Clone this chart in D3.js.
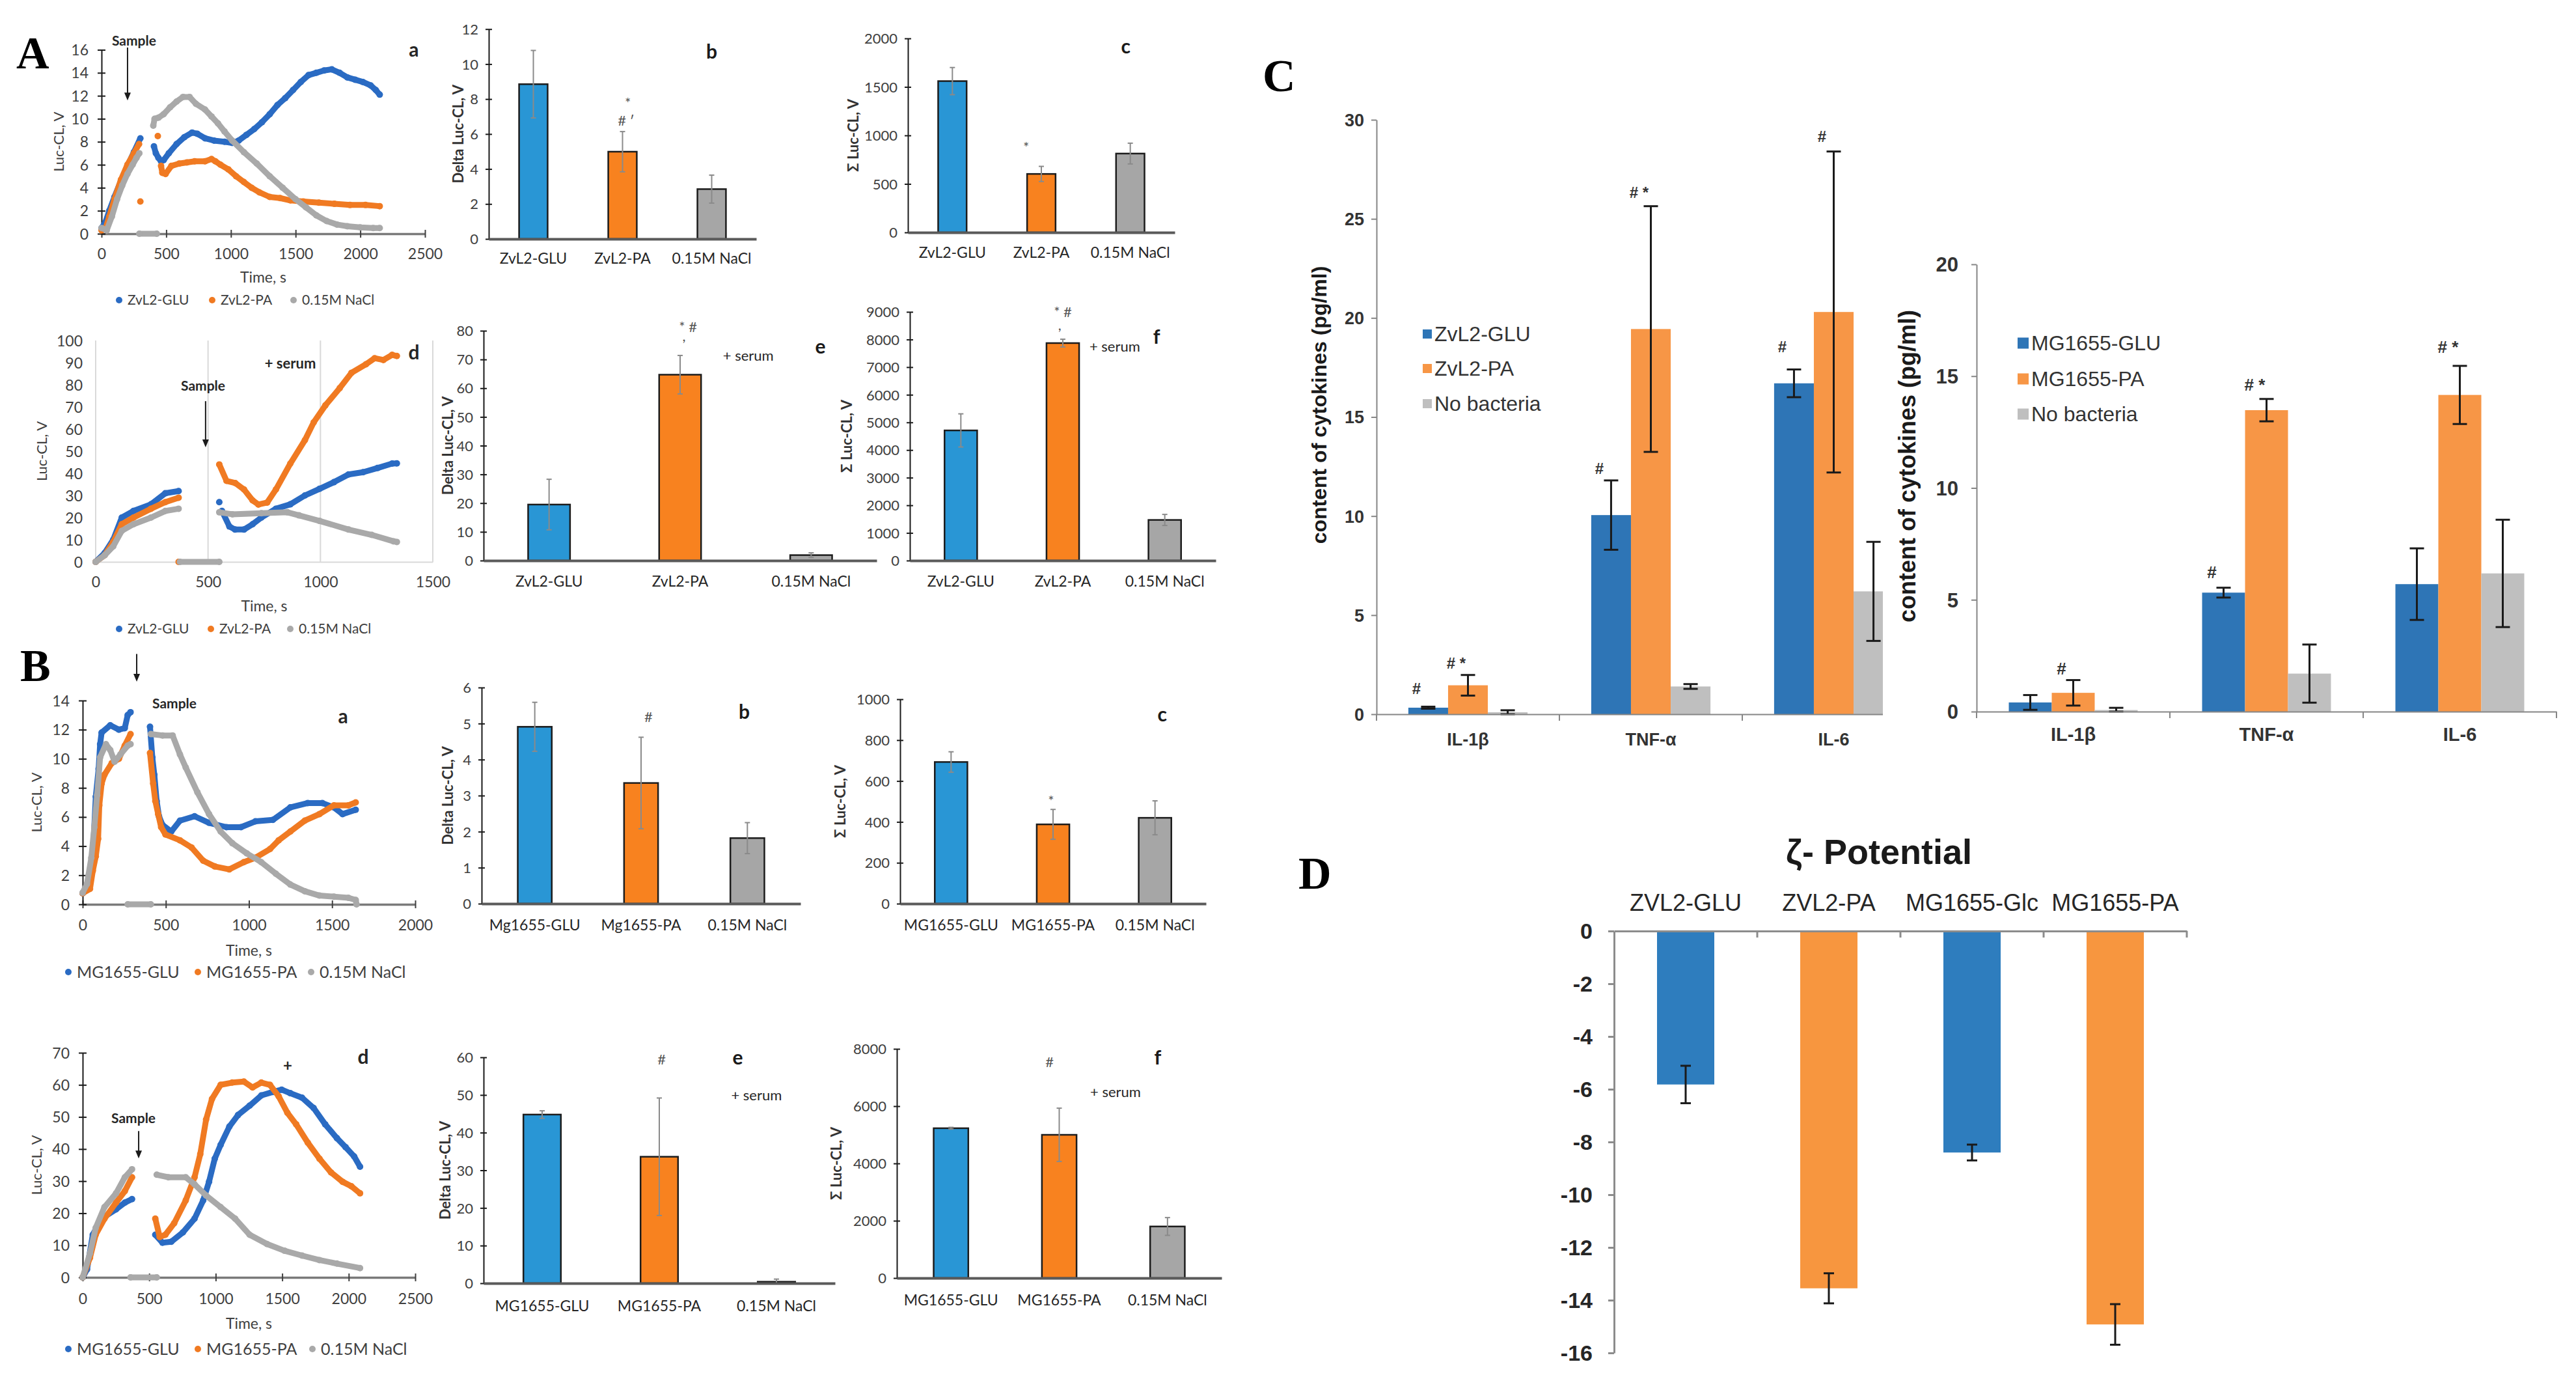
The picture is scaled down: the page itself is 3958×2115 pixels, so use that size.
<!DOCTYPE html>
<html>
<head>
<meta charset="utf-8">
<title>Luc-CL kinetics, cytokines and zeta potential</title>
<script src="https://cdn.jsdelivr.net/npm/d3@7"></script>
<style>
  body { margin: 0; background: #fff; }
  svg { display: block; background: #fff; }
</style>
</head>
<body>
<svg id="fig" width="3958" height="2115"></svg>
<script>
// ---------- kinetics: [time s, Luc-CL V], null breaks the trace ----------
// A a : ZvL2, no serum
const aaGlu = [[0,0.5],[30,1],[60,2],[100,3.2],[150,4.6],[200,5.9],[250,7.1],[300,8.3], null,
  [405,7.6],[420,7],[440,6.6],[460,6.3],[480,6.4],[520,7],[580,7.8],[640,8.4],[700,8.8],[740,8.7],[800,8.3],[870,8.1],[950,8],[1010,7.9],[1060,8.1],[1120,8.6],[1180,9.1],[1240,9.7],[1300,10.4],[1360,11.2],[1420,11.8],[1480,12.5],[1540,13.2],[1600,13.8],[1660,14],[1720,14.2],[1780,14.3],[1840,14],[1900,13.6],[1960,13.4],[2020,13.2],[2080,12.9],[2120,12.5],[2150,12.1]];
const aaPa = [[0,0.3],[30,0.4],[60,1.5],[100,3],[150,4.7],[200,6],[250,7],[290,7.8], null, [300,2.8], null, [435,8.5], null,
  [460,5.9],[470,5.3],[495,5.2],[540,5.9],[600,6.1],[660,6.2],[720,6.3],[800,6.3],[850,6.5],[880,6.3],[920,6],[980,5.6],[1040,5],[1100,4.5],[1160,4],[1220,3.6],[1300,3.2],[1380,3.1],[1460,2.9],[1560,2.8],[1680,2.7],[1800,2.6],[1920,2.5],[2040,2.5],[2150,2.4]];
const aaNacl = [[0,0.5],[40,0.3],[80,1.5],[120,3],[160,4.2],[200,5.2],[240,6],[270,6.6],[292,7], null, [292,0],[427,0], null,
  [400,9.4],[410,10],[440,10.1],[480,10.4],[530,11],[580,11.5],[630,11.9],[680,11.9],[730,11.3],[800,10.8],[850,10.2],[900,9.6],[950,8.9],[1010,8.1],[1100,7.1],[1200,6.1],[1300,5],[1400,4],[1500,3],[1580,2.3],[1660,1.6],[1740,1.1],[1820,0.8],[1900,0.65],[2000,0.55],[2100,0.5],[2150,0.5]];

// A d : ZvL2 + serum
const adGlu = [[0,0],[40,4],[78,10],[116,20],[168,23],[246,26],[310,31],[369,32], null, [550,27], null,
  [562,23],[595,16],[620,14.6],[660,14.6],[698,17],[737,20],[802,24],[866,26],[931,30],[996,33],[1060,36],[1125,39.5],[1190,40.5],[1254,42.4],[1319,44.4],[1340,44.5]];
const adPa = [[0,0],[40,3],[78,9],[116,17],[168,20],[246,24],[310,27],[369,29], null, [369,0], null,
  [550,44],[582,36.6],[621,35.6],[660,32.7],[698,27.8],[724,25.9],[763,26.8],[802,32.7],[866,44.4],[931,55],[970,63],[1022,70.7],[1086,78.5],[1138,85.4],[1203,89.3],[1241,92],[1280,91.2],[1319,93.5],[1340,93]];
const adNacl = [[0,0],[40,3],[78,7],[116,14],[168,17],[246,20],[310,23],[369,24], null, [375,0],[550,0], null,
  [550,22.4],[608,21.5],[737,22],[853,22.4],[905,21],[996,18.5],[1125,14.6],[1228,12.2],[1325,9.3],[1340,9]];

// B a : MG1655, no serum
const baGlu = [[0,0.76],[26,1.06],[44,2],[61,3.3],[79,7.4],[96,9.3],[105,11],[114,11.8],[166,12.3],[218,12],[253,12.1],[271,13],[288,13.2], null,
  [405,12.2],[419,10.1],[431,8.9],[445,7.1],[459,6.05],[480,5.45],[533,5],[585,5.75],[673,6.05],[760,5.6],[865,5.3],[952,5.3],[1039,5.7],[1144,5.8],[1249,6.66],[1354,6.96],[1441,6.96],[1511,6.66],[1563,6.2],[1642,6.5]];
const baPa = [[0,0.76],[44,1.06],[61,2.3],[79,3.3],[93,4.5],[100,6.8],[114,8.3],[131,8.9],[175,9.7],[218,10],[253,10.9],[288,11.7], null,
  [405,10.4],[424,8.3],[437,7.1],[454,6.2],[472,5.3],[498,4.8],[585,4.4],[655,3.9],[725,3],[795,2.6],[882,2.4],[969,2.9],[1039,3.2],[1127,3.8],[1179,4.4],[1249,5],[1336,5.75],[1424,6.2],[1511,6.8],[1598,6.8],[1642,7]];
const baNacl = [[0,0.8],[26,1.4],[52,3.2],[70,5.3],[87,7.5],[105,10.1],[140,11],[166,10.6],[192,9.8],[227,10.3],[271,10.9],[288,11], null, [271,0],[410,0], null,
  [410,11.7],[480,11.6],[541,11.6],[585,10.3],[620,9.4],[690,7.7],[760,6.2],[830,5],[900,4.2],[987,3.5],[1074,2.9],[1162,2.1],[1249,1.36],[1336,0.9],[1424,0.6],[1511,0.53],[1598,0.45],[1642,0.3],[1647,0]];

// B d : MG1655 + serum
const bdGlu = [[0,0],[33,2.5],[76,13.3],[142,18.3],[251,21.2],[317,23.3],[371,24.4], null,
  [546,13.3],[600,10.8],[666,11.1],[753,14],[841,18.3],[906,24],[950,29.8],[993,37],[1037,41.3],[1103,47],[1168,50.6],[1255,53.5],[1343,56.7],[1430,57.8],[1496,58.5],[1561,57.4],[1649,56],[1736,52.8],[1823,47.7],[1911,43.4],[1976,40.6],[2041,37.7],[2085,34.5]];
const bdPa = [[0,0],[55,6.1],[98,13.3],[164,18.3],[251,23.3],[317,26.9],[371,31.2], null,
  [546,18.3],[579,12.6],[622,13.3],[688,16.9],[775,24],[841,31.2],[884,38.4],[928,49.2],[972,55.6],[1037,60],[1124,60.7],[1212,61],[1277,59.2],[1343,60.7],[1408,60],[1474,56.4],[1539,51.3],[1605,47.7],[1692,42],[1780,37],[1867,32.7],[1954,29.8],[2020,28.4],[2085,26.2]];
const bdNacl = [[0,0],[55,7.5],[98,15.4],[164,21.9],[251,26.2],[317,31.2],[371,33.7], null, [360,0],[557,0], null,
  [557,32],[644,31.2],[775,31.2],[841,29],[928,25.5],[1037,21.9],[1146,18.3],[1255,13.3],[1386,10.4],[1518,8.3],[1649,6.8],[1780,5.4],[1911,4.3],[2085,2.9]];

// ---------- bar panels of A and B (mean, error) ----------
const zvlCats = ['ZvL2-GLU', 'ZvL2-PA', '0.15M NaCl'];
const mgCatsLow = ['Mg1655-GLU', 'Mg1655-PA', '0.15M NaCl'];
const mgCats = ['MG1655-GLU', 'MG1655-PA', '0.15M NaCl'];
const abVals = [8.85, 4.99, 2.85],  abErr = [1.93, 1.15, 0.8];
const acVals = [1560, 603, 813],    acErr = [140, 78, 107];
const aeVals = [19.5, 64.7, 1.9],   aeErr = [8.8, 6.7, 0.8];
const afVals = [4710, 7870, 1470],  afErr = [600, 140, 200];
const bbVals = [4.91, 3.35, 1.82],  bbErr = [0.68, 1.27, 0.43];
const bcVals = [693, 388, 420],     bcErr = [50, 73, 83];
const beVals = [44.8, 33.6, 0.4],   beErr = [1.0, 15.6, 0.7];
const bfVals = [5230, 5000, 1800],  bfErr = [30, 930, 310];

// ---------- C : cytokines, pg/ml (rows = GLU, PA, no bacteria) ----------
const cytoCats = ['IL-1β', 'TNF-α', 'IL-6'];
const zvlCytoNames = ['ZvL2-GLU', 'ZvL2-PA', 'No bacteria'];
const mgCytoNames = ['MG1655-GLU', 'MG1655-PA', 'No bacteria'];
const zvlCyto    = [[0.33, 10.05, 16.7], [1.46, 19.44, 20.3], [0.1, 1.4, 6.2]];
const zvlCytoErr = [[0.05, 1.75, 0.7],   [0.52, 6.2, 8.1],    [0.1, 0.12, 2.5]];
const mgCyto     = [[0.41, 5.32, 5.7],   [0.84, 13.48, 14.16], [0.07, 1.7, 6.18]];
const mgCytoErr  = [[0.33, 0.22, 1.6],   [0.57, 0.5, 1.3],    [0.1, 1.3, 2.4]];

// ---------- D : zeta potential ----------
const zetaCats = ['ZVL2-GLU', 'ZVL2-PA', 'MG1655-Glc', 'MG1655-PA'];
const zetaVals = [-5.82, -13.55, -8.4, -14.92];
const zetaErr = [0.71, 0.57, 0.3, 0.77];

const fig = d3.select('#fig');
const LATO = 'Lato, "Liberation Sans", sans-serif';
const ARIAL = '"Liberation Sans", Arial, sans-serif';
const SERIF = '"Liberation Serif", "Times New Roman", serif';
const LINE_COLS = ['#2a6bc3', '#f07a22', '#a9a9a9'];
const BAR_COLS = ['#2996d5', '#f8821f', '#a6a6a6'];
const CYTO_COLS = ['#2e75b6', '#f79646', '#bfbfbf'];
const ZETA_COLS = ['#2e7dbe', '#f7963f', '#2e7dbe', '#f7963f'];
const plain = d3.format('d');

function txt(g, x, y, s, o = {}) {
  return g.append('text').attr('x', x).attr('y', y).text(s)
    .attr('font-family', o.family || LATO)
    .attr('font-size', o.size || 20)
    .attr('font-weight', o.weight || 'normal')
    .attr('fill', o.fill || '#262626')
    .attr('text-anchor', o.anchor || 'middle')
    .attr('dy', o.dy == null ? '0.35em' : o.dy)
    .attr('transform', o.rotate ? `rotate(-90,${x},${y})` : null);
}

function fontAxis(a, family, size, weight, fill) {
  a.attr('font-family', family).attr('font-size', size);
  a.selectAll('text').attr('fill', fill).attr('font-weight', weight);
}

// scatter-style kinetic curve (3 series)
function lineChart(o) {
  const g = fig.append('g');
  const x = d3.scaleLinear().domain([0, o.xMax]).range([o.left, o.right]);
  const y = d3.scaleLinear().domain([0, o.yMax]).range([o.bottom, o.top]);
  const xt = d3.range(0, o.xMax + 1, o.xStep);
  const yt = d3.range(0, o.yMax + o.yStep / 2, o.yStep);

  if (o.grid) {
    g.append('g').selectAll('line').data(xt).join('line')
      .attr('x1', d => x(d)).attr('x2', d => x(d))
      .attr('y1', o.top).attr('y2', o.bottom)
      .attr('stroke', '#d9d9d9').attr('stroke-width', 2);
  }

  const xa = g.append('g').attr('transform', `translate(0,${o.bottom})`)
    .call(d3.axisBottom(x).tickValues(xt).tickFormat(plain).tickSize(6).tickSizeOuter(0));
  xa.select('.domain').attr('stroke', o.grid ? '#d9d9d9' : '#7a7a7a').attr('stroke-width', o.grid ? 2 : 3.5);
  xa.selectAll('.tick line').attr('y1', -6).attr('y2', 6)
    .attr('stroke', o.grid ? 'none' : '#404040').attr('stroke-width', 2);
  xa.selectAll('.tick text').attr('y', o.xLabOff).attr('dy', '0.35em');
  fontAxis(xa, LATO, 23, 'normal', '#404040');

  const ya = g.append('g').attr('transform', `translate(${o.left},0)`)
    .call(d3.axisLeft(y).tickValues(yt).tickFormat(plain).tickSize(6).tickSizeOuter(0));
  ya.select('.domain').attr('stroke', o.grid ? 'none' : '#1a1a1a').attr('stroke-width', 2);
  ya.selectAll('.tick line').attr('x1', 6)
    .attr('stroke', o.grid ? 'none' : '#1a1a1a').attr('stroke-width', 2);
  ya.selectAll('.tick text').attr('x', -20).attr('dy', '0.35em');
  fontAxis(ya, LATO, 23, 'normal', '#404040');

  const line = d3.line().defined(d => d !== null).x(d => x(d[0])).y(d => y(d[1]));
  o.series.forEach((s, i) => {
    g.append('path').datum(s).attr('d', line).attr('fill', 'none')
      .attr('stroke', LINE_COLS[i]).attr('stroke-width', 9)
      .attr('stroke-linejoin', 'round').attr('stroke-linecap', 'round');
    g.append('g').selectAll('circle').data(s.filter(d => d !== null)).join('circle')
      .attr('cx', d => x(d[0])).attr('cy', d => y(d[1])).attr('r', 5)
      .attr('fill', LINE_COLS[i]);
  });

  // legend under the plot
  o.names.forEach((n, i) => {
    g.append('circle').attr('cx', o.legX[i]).attr('cy', o.legY).attr('r', 5).attr('fill', LINE_COLS[i]);
    txt(g, o.legX[i] + 13, o.legY, n, { size: o.legSize, anchor: 'start', fill: '#404040' });
  });
  txt(g, (o.left + o.right) / 2, o.timeY, 'Time, s', { size: 23, fill: '#404040' });
  txt(g, o.yLabX, (o.top + o.bottom) / 2, 'Luc-CL, V', { size: 22, rotate: true, fill: '#404040' });

  // sample arrow and notes, in data units
  if (o.arrow) {
    const ax = x(o.arrow.t), y1 = y(o.arrow.v1), y2 = y(o.arrow.v2);
    g.append('line').attr('x1', ax).attr('x2', ax).attr('y1', y1).attr('y2', y2 - 10)
      .attr('stroke', '#1a1a1a').attr('stroke-width', 2);
    g.append('path').attr('d', `M${ax - 5},${y2 - 12}L${ax + 5},${y2 - 12}L${ax},${y2}Z`).attr('fill', '#1a1a1a');
  }
  (o.notes || []).forEach(n => txt(g, x(n.t), y(n.v), n.s, { size: n.size || 21, weight: n.weight || 'bold' }));
}

// three bars with errors
function barChart(o) {
  const g = fig.append('g');
  const x = d3.scaleBand().domain(o.cats).range([o.left, o.right]).paddingInner(0.68).paddingOuter(0.34);
  const cx = c => x(c) + x.bandwidth() / 2;
  const xi = d3.scaleLinear().domain([0, 2]).range([cx(o.cats[0]), cx(o.cats[2])]);
  const y = d3.scaleLinear().domain([0, o.yMax]).range([o.bottom, o.top]);
  const rows = o.cats.map((c, i) => ({ c, v: o.vals[i], e: o.errs[i], col: BAR_COLS[i] }));

  g.selectAll('rect.bar').data(rows).join('rect').attr('class', 'bar')
    .attr('x', d => x(d.c)).attr('y', d => y(d.v))
    .attr('width', x.bandwidth()).attr('height', d => y(0) - y(d.v))
    .attr('fill', d => d.col).attr('stroke', '#1c1c1c').attr('stroke-width', 2.5);

  const eb = g.selectAll('g.err').data(rows).join('g').attr('class', 'err')
    .attr('stroke', '#8a8a8a').attr('stroke-width', 2);
  eb.append('line').attr('x1', d => cx(d.c)).attr('x2', d => cx(d.c))
    .attr('y1', d => y(d.v + d.e)).attr('y2', d => y(Math.max(0, d.v - d.e)));
  eb.append('line').attr('x1', d => cx(d.c) - 4).attr('x2', d => cx(d.c) + 4)
    .attr('y1', d => y(d.v + d.e)).attr('y2', d => y(d.v + d.e));
  eb.append('line').attr('x1', d => cx(d.c) - 4).attr('x2', d => cx(d.c) + 4)
    .attr('y1', d => y(Math.max(0, d.v - d.e))).attr('y2', d => y(Math.max(0, d.v - d.e)));

  const ya = g.append('g').attr('transform', `translate(${o.left},0)`)
    .call(d3.axisLeft(y).tickValues(d3.range(0, o.yMax + o.yStep / 2, o.yStep)).tickFormat(plain)
      .tickSize(5).tickSizeOuter(0));
  ya.select('.domain').attr('stroke', '#1a1a1a').attr('stroke-width', 2);
  ya.selectAll('.tick line').attr('x1', 5).attr('stroke', '#1a1a1a').attr('stroke-width', 2);
  ya.selectAll('.tick text').attr('x', -16).attr('dy', '0.35em');
  fontAxis(ya, LATO, 22, 'normal', '#404040');

  const xa = g.append('g').attr('transform', `translate(0,${o.bottom})`)
    .call(d3.axisBottom(x).tickSize(0).tickSizeOuter(0));
  xa.select('.domain').attr('stroke', '#5a5a5a').attr('stroke-width', 4);
  xa.selectAll('.tick text').attr('y', o.labY - o.bottom).attr('dy', '0.35em');
  fontAxis(xa, LATO, 23, 'normal', '#262626');

  txt(g, o.yLabX, (o.top + o.bottom) / 2, o.yLab, { size: 22, weight: 'bold', rotate: true, fill: '#333' });
  o.notes.forEach(n => txt(g, xi(n.i), y(n.v), n.s, {
    size: n.size || 22, weight: n.weight || 'normal', fill: n.fill || '#555'
  }));
}

// grouped cytokine bars
function cytoChart(o) {
  const root = fig.append('g');
  if (o.clipRight) {
    root.append('clipPath').attr('id', o.id)
      .append('rect').attr('x', o.left - 300).attr('y', 0).attr('width', o.clipRight - o.left + 300).attr('height', 1300);
  }
  const g = root.append('g').attr('clip-path', o.clipRight ? `url(#${o.id})` : null);
  const x0 = d3.scaleBand().domain(cytoCats).range([o.left, o.right]);
  const bw = x0.bandwidth();
  const x1 = d3.scaleBand().domain([0, 1, 2]).range([bw * o.gp, bw * (1 - o.gp)]);
  const y = d3.scaleLinear().domain([0, o.yMax]).range([o.bottom, o.top]);
  const rows = [];
  o.vals.forEach((arr, s) => arr.forEach((v, k) => rows.push({ c: cytoCats[k], s, v, e: o.errs[s][k] })));
  const bc = d => x0(d.c) + x1(d.s) + x1.bandwidth() / 2;

  g.selectAll('rect.bar').data(rows).join('rect').attr('class', 'bar')
    .attr('x', d => x0(d.c) + x1(d.s)).attr('y', d => y(d.v))
    .attr('width', x1.bandwidth()).attr('height', d => y(0) - y(d.v))
    .attr('fill', d => CYTO_COLS[d.s]);

  const eb = g.selectAll('g.err').data(rows).join('g').attr('class', 'err')
    .attr('stroke', '#1a1a1a').attr('stroke-width', 3);
  const lo = d => y(Math.max(0, d.v - d.e)), hi = d => y(d.v + d.e);
  eb.append('line').attr('x1', bc).attr('x2', bc).attr('y1', hi).attr('y2', lo);
  eb.append('line').attr('x1', d => bc(d) - o.capW / 2).attr('x2', d => bc(d) + o.capW / 2).attr('y1', hi).attr('y2', hi);
  eb.append('line').attr('x1', d => bc(d) - o.capW / 2).attr('x2', d => bc(d) + o.capW / 2).attr('y1', lo).attr('y2', lo);

  const ya = g.append('g').attr('transform', `translate(${o.left},0)`)
    .call(d3.axisLeft(y).tickValues(d3.range(0, o.yMax + 1, o.yStep)).tickSize(8).tickPadding(o.tickPad).tickSizeOuter(0));
  ya.select('.domain').attr('stroke', '#868686').attr('stroke-width', 2);
  ya.selectAll('.tick line').attr('stroke', '#868686').attr('stroke-width', 2);
  ya.selectAll('.tick text').attr('dy', '0.35em');
  fontAxis(ya, ARIAL, o.tickSize, 'bold', '#333');

  const xa = g.append('g').attr('transform', `translate(0,${o.bottom})`)
    .call(d3.axisBottom(x0).tickSize(0).tickSizeOuter(0));
  xa.select('.domain').attr('stroke', '#868686').attr('stroke-width', 2);
  xa.selectAll('.tick text').attr('y', o.labOff).attr('dy', '0.35em');
  fontAxis(xa, ARIAL, o.labSize, 'bold', '#333');
  g.append('g').selectAll('line').data(d3.range(4)).join('line')
    .attr('x1', k => o.left + k * bw).attr('x2', k => o.left + k * bw)
    .attr('y1', o.bottom).attr('y2', o.bottom + 10)
    .attr('stroke', '#868686').attr('stroke-width', 2);

  // legend
  o.names.forEach((n, i) => {
    g.append('rect').attr('x', o.legX).attr('y', o.legY[i] - o.legSq / 2)
      .attr('width', o.legSq).attr('height', o.legSq).attr('fill', CYTO_COLS[i]);
    txt(g, o.legX + o.legSq + 4, o.legY[i], n, { family: ARIAL, size: o.legSize, anchor: 'start', fill: '#333' });
  });

  // significance marks
  o.notes.forEach(n => {
    const d = { c: n.c, s: n.s };
    txt(g, bc(d) + o.noteDx, y(n.v), n.t, { family: ARIAL, size: o.noteSize, weight: 'bold', fill: '#333' });
  });

  txt(fig, o.yLabX, o.yLabY, 'content of cytokines (pg/ml)',
    { family: ARIAL, size: o.yLabSize, weight: 'bold', rotate: true, fill: '#1a1a1a' });
}

function zetaChart() {
  const g = fig.append('g');
  const x = d3.scaleBand().domain(zetaCats).range([2480, 3360]).paddingInner(0.6).paddingOuter(0.3);
  const y = d3.scaleLinear().domain([-16, 0]).range([2078, 1430]);
  const rows = zetaCats.map((c, i) => ({ c, v: zetaVals[i], e: zetaErr[i], col: ZETA_COLS[i] }));
  const bc = d => x(d.c) + x.bandwidth() / 2;

  g.selectAll('rect').data(rows).join('rect')
    .attr('x', d => x(d.c)).attr('y', y(0))
    .attr('width', x.bandwidth()).attr('height', d => y(d.v) - y(0))
    .attr('fill', d => d.col);

  const eb = g.selectAll('g.err').data(rows).join('g').attr('class', 'err')
    .attr('stroke', '#1a1a1a').attr('stroke-width', 3);
  eb.append('line').attr('x1', bc).attr('x2', bc).attr('y1', d => y(d.v + d.e)).attr('y2', d => y(d.v - d.e));
  eb.append('line').attr('x1', d => bc(d) - 8).attr('x2', d => bc(d) + 8).attr('y1', d => y(d.v + d.e)).attr('y2', d => y(d.v + d.e));
  eb.append('line').attr('x1', d => bc(d) - 8).attr('x2', d => bc(d) + 8).attr('y1', d => y(d.v - d.e)).attr('y2', d => y(d.v - d.e));

  const ya = g.append('g').attr('transform', 'translate(2480,0)')
    .call(d3.axisLeft(y).tickValues(d3.range(-16, 1, 2)).tickFormat(d => String(d))
      .tickSize(9).tickPadding(24).tickSizeOuter(0));
  ya.select('.domain').attr('stroke', '#8c8c8c').attr('stroke-width', 3);
  ya.selectAll('.tick line').attr('stroke', '#8c8c8c').attr('stroke-width', 3);
  ya.selectAll('.tick text').attr('dy', '0.35em');
  fontAxis(ya, ARIAL, 34, 'bold', '#262626');

  const xa = g.append('g').attr('transform', `translate(0,${y(0)})`)
    .call(d3.axisTop(x).tickSize(0).tickPadding(31).tickSizeOuter(0));
  xa.select('.domain').attr('stroke', '#8c8c8c').attr('stroke-width', 3);
  fontAxis(xa, ARIAL, 36, 'normal', '#262626');
  g.append('g').selectAll('line').data(d3.range(1, 5)).join('line')
    .attr('x1', k => 2480 + k * x.step()).attr('x2', k => 2480 + k * x.step())
    .attr('y1', y(0)).attr('y2', y(0) + 10)
    .attr('stroke', '#8c8c8c').attr('stroke-width', 3);

  txt(g, 2887, 1327, 'ζ- Potential', { family: ARIAL, size: 54, weight: 'bold', dy: 0, fill: '#1a1a1a' });
}

// ---------- panel A ----------
lineChart({
  left: 156, right: 653, top: 76.5, bottom: 359, xMax: 2500, xStep: 500, yMax: 16, yStep: 2, xLabOff: 31,
  series: [aaGlu, aaPa, aaNacl], names: zvlCats, legX: [183, 326, 451], legY: 461, legSize: 21,
  timeY: 426, yLabX: 90, arrow: { t: 201, v1: 16.2, v2: 11.6 },
  notes: [{ t: 251, v: 16.8, s: 'Sample' }, { t: 2414, v: 16, s: 'a', size: 30 }]
});
barChart({
  left: 751, right: 1162, top: 44.7, bottom: 367, yMax: 12, yStep: 2, cats: zvlCats, vals: abVals, errs: abErr,
  labY: 397, yLab: 'Delta Luc-CL, V', yLabX: 704,
  notes: [{ i: 2.0, v: 10.7, s: 'b', size: 30, weight: 'bold', fill: '#1a1a1a' }, { i: 1.06, v: 7.78, s: '*' }, { i: 1.04, v: 6.78, s: '# ʹ' }]
});
barChart({
  left: 1395, right: 1805, top: 59, bottom: 357, yMax: 2000, yStep: 500, cats: zvlCats, vals: acVals, errs: acErr,
  labY: 388, yLab: 'Σ Luc-CL, V', yLabX: 1311,
  notes: [{ i: 1.95, v: 1913, s: 'c', size: 30, weight: 'bold', fill: '#1a1a1a' }, { i: 0.83, v: 879, s: '*' }]
});
lineChart({
  left: 147, right: 665, top: 523, bottom: 863, xMax: 1500, xStep: 500, yMax: 100, yStep: 10, xLabOff: 31, grid: true,
  series: [adGlu, adPa, adNacl], names: zvlCats, legX: [183, 324, 446], legY: 966, legSize: 21,
  timeY: 931, yLabX: 64, arrow: { t: 489, v1: 72.6, v2: 51.8 },
  notes: [{ t: 478, v: 79.4, s: 'Sample' }, { t: 866, v: 89.7, s: '+ serum', size: 22 }, { t: 1416, v: 94.7, s: 'd', size: 30 }]
});
barChart({
  left: 743, right: 1347, top: 508, bottom: 861, yMax: 80, yStep: 10, cats: zvlCats, vals: aeVals, errs: aeErr,
  labY: 893, yLab: 'Delta Luc-CL, V', yLabX: 688,
  notes: [{ i: 2.07, v: 74.4, s: 'e', size: 30, weight: 'bold', fill: '#1a1a1a' }, { i: 1.52, v: 71.4, s: '+ serum', size: 22, fill: '#262626' },
    { i: 1.06, v: 81.4, s: '* #' }, { i: 1.03, v: 78.2, s: ',' }]
});
barChart({
  left: 1398, right: 1868, top: 479, bottom: 861, yMax: 9000, yStep: 1000, cats: zvlCats, vals: afVals, errs: afErr,
  labY: 893, yLab: 'Σ Luc-CL, V', yLabX: 1301,
  notes: [{ i: 1.92, v: 8100, s: 'f', size: 30, weight: 'bold', fill: '#1a1a1a' }, { i: 1.51, v: 7746, s: '+ serum', size: 22, fill: '#262626' },
    { i: 1.0, v: 8990, s: '* #' }, { i: 0.97, v: 8520, s: ',' }]
});

// ---------- panel B ----------
lineChart({
  left: 127, right: 638, top: 1076, bottom: 1389, xMax: 2000, xStep: 500, yMax: 14, yStep: 2, xLabOff: 32,
  series: [baGlu, baPa, baNacl], names: mgCats, legX: [105, 304, 478], legY: 1493, legSize: 25,
  timeY: 1460, yLabX: 56, arrow: { t: 325, v1: 17.2, v2: 15.3 },
  notes: [{ t: 552, v: 13.8, s: 'Sample' }, { t: 1566, v: 12.9, s: 'a', size: 30 }]
});
barChart({
  left: 740, right: 1230, top: 1056, bottom: 1388, yMax: 6, yStep: 1, cats: mgCatsLow, vals: bbVals, errs: bbErr,
  labY: 1421, yLab: 'Delta Luc-CL, V', yLabX: 688,
  notes: [{ i: 1.97, v: 5.33, s: 'b', size: 30, weight: 'bold', fill: '#1a1a1a' }, { i: 1.07, v: 5.19, s: '#' }]
});
barChart({
  left: 1383, right: 1853, top: 1074, bottom: 1388, yMax: 1000, yStep: 200, cats: mgCats, vals: bcVals, errs: bcErr,
  labY: 1421, yLab: 'Σ Luc-CL, V', yLabX: 1291,
  notes: [{ i: 2.07, v: 924, s: 'c', size: 30, weight: 'bold', fill: '#1a1a1a' }, { i: 0.98, v: 503, s: '*' }]
});
lineChart({
  left: 127, right: 638, top: 1617, bottom: 1962, xMax: 2500, xStep: 500, yMax: 70, yStep: 10, xLabOff: 33,
  series: [bdGlu, bdPa, bdNacl], names: mgCats, legX: [105, 304, 480], legY: 2072, legSize: 25,
  timeY: 2033, yLabX: 56, arrow: { t: 421, v1: 45.6, v2: 37.1 },
  notes: [{ t: 382, v: 49.5, s: 'Sample' }, { t: 2109, v: 68.6, s: 'd', size: 30 }, { t: 1541, v: 66.1, s: '+', size: 24 }]
});
barChart({
  left: 743, right: 1283, top: 1624, bottom: 1971, yMax: 60, yStep: 10, cats: mgCats, vals: beVals, errs: beErr,
  labY: 2006, yLab: 'Delta Luc-CL, V', yLabX: 684,
  notes: [{ i: 1.67, v: 59.9, s: 'e', size: 30, weight: 'bold', fill: '#1a1a1a' }, { i: 1.02, v: 59.5, s: '#' },
    { i: 1.83, v: 50, s: '+ serum', size: 22, fill: '#262626' }]
});
barChart({
  left: 1378, right: 1877, top: 1611, bottom: 1963, yMax: 8000, yStep: 2000, cats: mgCats, vals: bfVals, errs: bfErr,
  labY: 1997, yLab: 'Σ Luc-CL, V', yLabX: 1285,
  notes: [{ i: 1.91, v: 7682, s: 'f', size: 30, weight: 'bold', fill: '#1a1a1a' }, { i: 0.91, v: 7545, s: '#' },
    { i: 1.52, v: 6500, s: '+ serum', size: 22, fill: '#262626' }]
});

// ---------- panel C ----------
cytoChart({
  id: 'clipC', left: 2115, right: 2958, clipRight: 2893, top: 184, bottom: 1097, yMax: 30, yStep: 5, gp: 0.174,
  vals: zvlCyto, errs: zvlCytoErr, names: zvlCytoNames, capW: 22,
  tickSize: 27, tickPad: 11, labSize: 27, labOff: 39,
  legX: 2186, legY: [513, 566, 620], legSq: 14, legSize: 32,
  yLabX: 2027, yLabY: 622, yLabSize: 32, noteDx: -18, noteSize: 24,
  notes: [{ c: 'IL-1β', s: 0, v: 1.28, t: '#' }, { c: 'IL-1β', s: 1, v: 2.56, t: '# *' },
    { c: 'TNF-α', s: 0, v: 12.39, t: '#' }, { c: 'TNF-α', s: 1, v: 26.32, t: '# *' },
    { c: 'IL-6', s: 0, v: 18.53, t: '#' }, { c: 'IL-6', s: 1, v: 29.15, t: '#' }]
});
cytoChart({
  id: 'clipC2', left: 3037, right: 3928, top: 406, bottom: 1093, yMax: 20, yStep: 5, gp: 0.1667,
  vals: mgCyto, errs: mgCytoErr, names: mgCytoNames, capW: 22,
  tickSize: 31, tickPad: 20, labSize: 29, labOff: 35,
  legX: 3100, legY: [527, 582, 636], legSq: 17, legSize: 32,
  yLabX: 2930, yLabY: 716, yLabSize: 36, noteDx: -18, noteSize: 26,
  notes: [{ c: 'IL-1β', s: 1, v: 1.92, t: '#' }, { c: 'TNF-α', s: 0, v: 6.23, t: '#' },
    { c: 'TNF-α', s: 1, v: 14.61, t: '# *' }, { c: 'IL-6', s: 1, v: 16.3, t: '# *' }]
});

// ---------- panel D ----------
zetaChart();

// panel letters
[['A', 25, 105], ['B', 31, 1046], ['C', 1940, 140], ['D', 1995, 1365]].forEach(([s, x, y]) =>
  txt(fig, x, y, s, { family: SERIF, size: 70, weight: 'bold', anchor: 'start', dy: 0, fill: '#000' }));
</script>
</body>
</html>
